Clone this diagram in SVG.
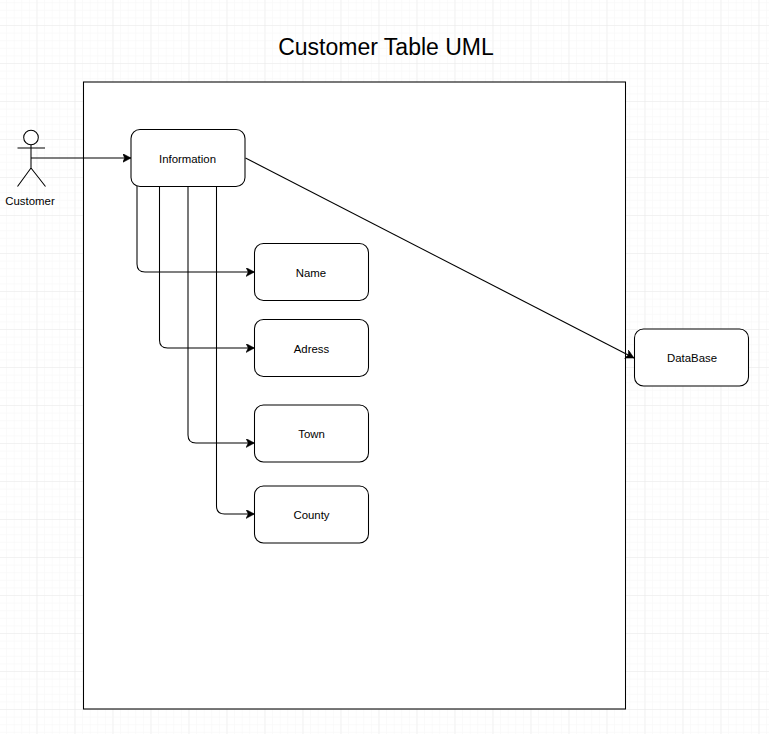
<svg xmlns="http://www.w3.org/2000/svg" width="769" height="734" viewBox="0 0 769 734">
<style>
.n{fill:#fff;stroke:#000;stroke-width:1.05}
.c{fill:none;stroke:#000;stroke-width:1.05}
text{font-family:"Liberation Sans",Arial,sans-serif;font-size:11.4px;fill:#000;text-anchor:middle}
</style>
<defs>
<pattern id="minor" width="7.6" height="7.6" patternUnits="userSpaceOnUse" x="-1.5" y="-5.4"><path d="M0 0H7.6M0 0V7.6" fill="none" stroke="#f6f6f6" stroke-width="1"/></pattern>
<pattern id="major" width="38" height="38" patternUnits="userSpaceOnUse" x="-1.5" y="-13"><path d="M0 0H38M0 0V38" fill="none" stroke="#e9e9e9" stroke-width="1"/></pattern>
<marker id="a" markerUnits="userSpaceOnUse" markerWidth="10" markerHeight="10" refX="8.5" refY="4.5" orient="auto"><path d="M0 0L8.5 4.5L0 9L2.2 4.5Z" fill="#000" stroke="#000" stroke-width=".5"/></marker>
</defs>
<rect width="769" height="734" fill="#fff"/>
<rect width="769" height="734" fill="url(#minor)"/>
<rect width="769" height="734" fill="url(#major)"/>
<g id="boundary"><rect x="83.500" y="82" width="542" height="627" class="n"/></g>
<text id="title" x="386" y="55" style="font-size:23px">Customer Table UML</text>
<g id="connectors">
<path class="c" d="M31 158H131" marker-end="url(#a)"/>
<path class="c" d="M137 186V264Q137 272 145 272H254.500" marker-end="url(#a)"/>
<path class="c" d="M159.500 186V340Q159.500 348 167.500 348H254.500" marker-end="url(#a)"/>
<path class="c" d="M188 186V435Q188 443 196 443H254.500" marker-end="url(#a)"/>
<path class="c" d="M216.500 186V506Q216.500 514 224.500 514H254.500" marker-end="url(#a)"/>
<path class="c" d="M245.500 158L634 358" marker-end="url(#a)"/>
</g>
<g id="customer">
<circle cx="31" cy="137.500" r="7.300" class="n"/>
<path class="c" d="M31 145V168M17.500 148H45M31 168L17.500 186.500M31 168L45.500 186.500"/>
<text x="30" y="205">Customer</text>
</g>
<g id="information"><rect x="131" y="129.500" width="114" height="57" rx="9" class="n"/><text x="187.500" y="163">Information</text></g>
<g id="name"><rect x="254.500" y="243.500" width="114" height="57" rx="9" class="n"/><text x="311" y="277">Name</text></g>
<g id="adress"><rect x="254.500" y="319.500" width="114" height="57" rx="9" class="n"/><text x="311.500" y="353">Adress</text></g>
<g id="town"><rect x="254.500" y="405" width="114" height="57" rx="9" class="n"/><text x="311.500" y="438">Town</text></g>
<g id="county"><rect x="254.500" y="486" width="114" height="57" rx="9" class="n"/><text x="311.500" y="519">County</text></g>
<g id="database"><rect x="634.500" y="329" width="114" height="57" rx="9" class="n"/><text x="692" y="362">DataBase</text></g>
</svg>
